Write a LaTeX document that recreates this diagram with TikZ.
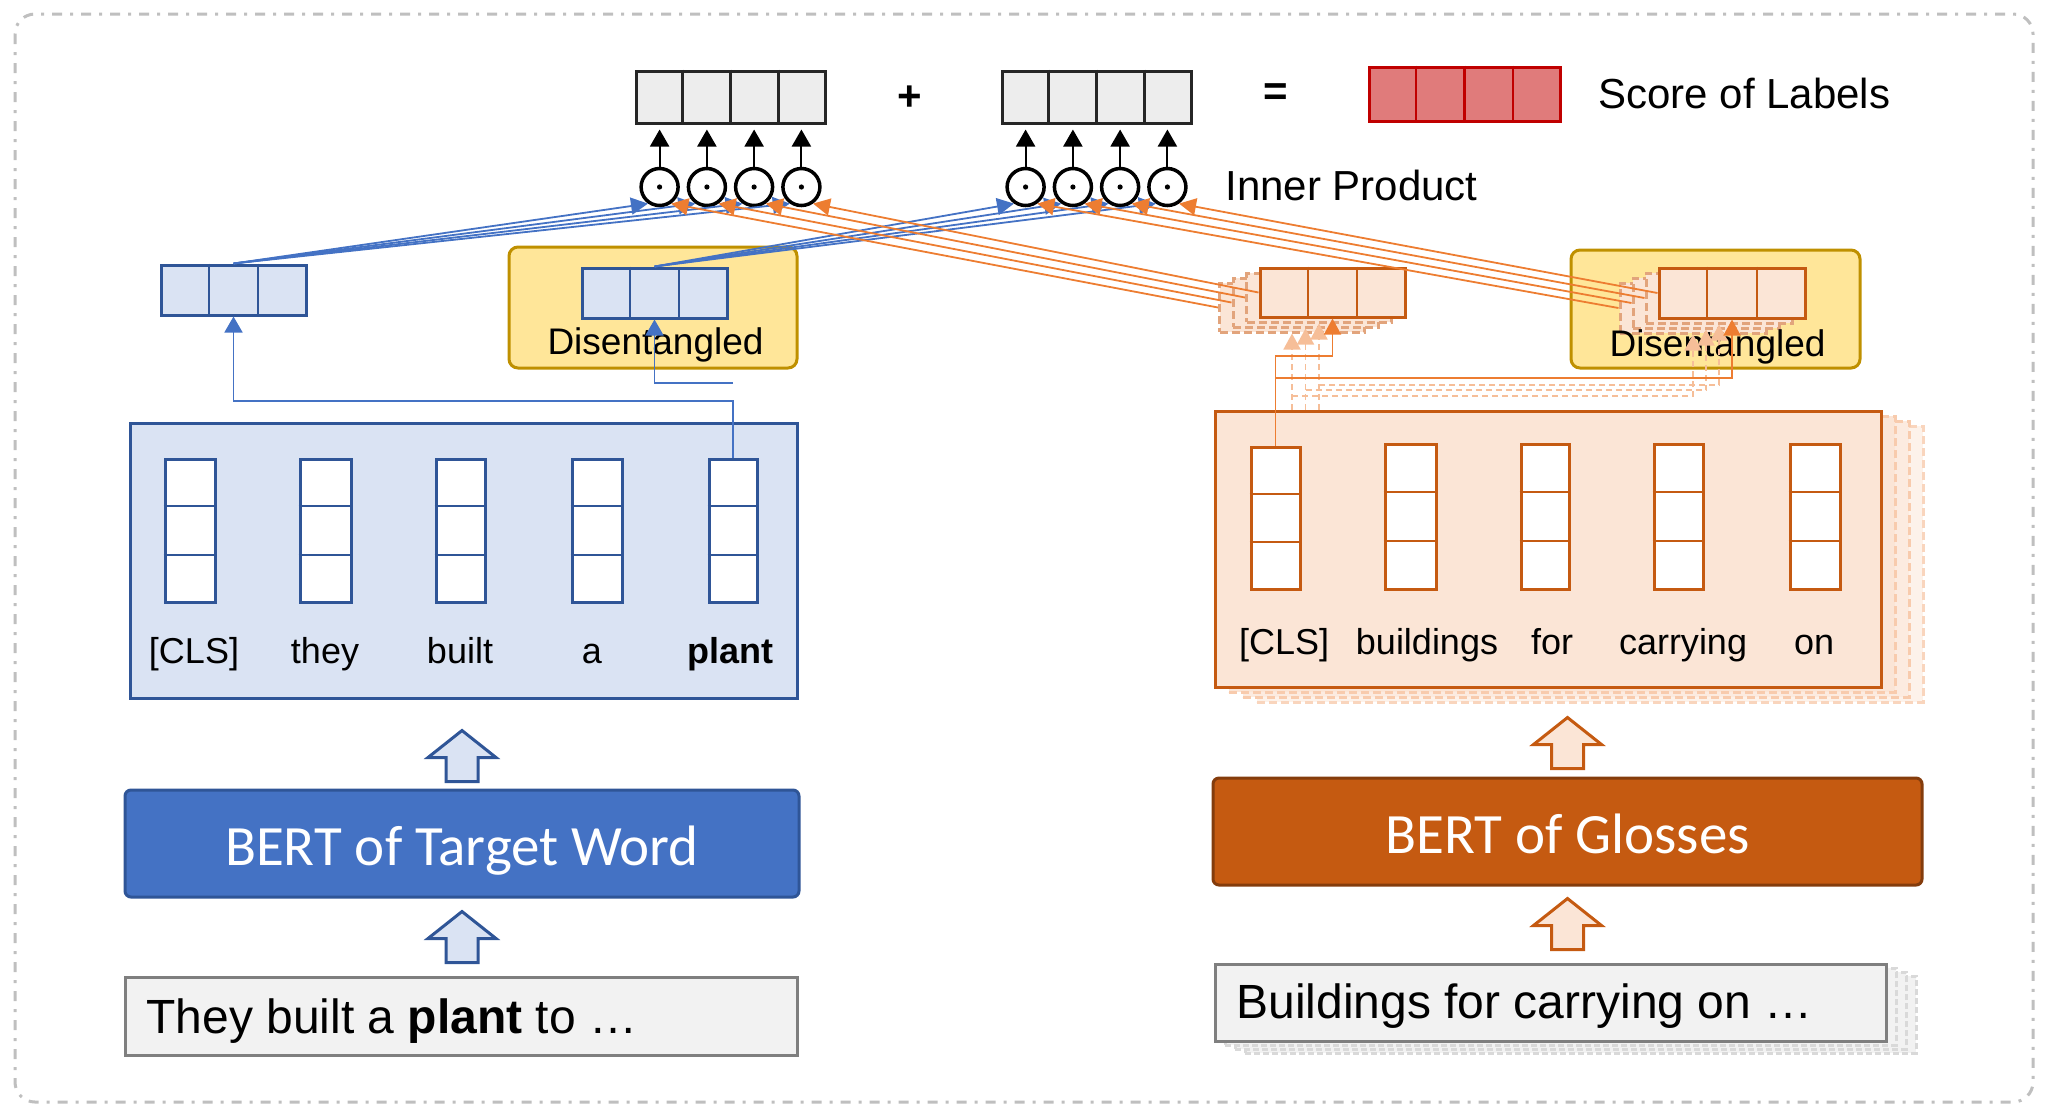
\documentclass[tikz,border=0pt]{standalone}
\usepackage{fontspec}
\setmainfont{Liberation Sans}
\newfontfamily\bertfont{Carlito}
\usetikzlibrary{arrows.meta,calc,fit}
\definecolor{blueFill}{HTML}{DAE3F3}
\definecolor{blueDraw}{HTML}{2F5597}
\definecolor{blueLine}{HTML}{4472C4}
\definecolor{bertBlue}{HTML}{4472C4}
\definecolor{orangeFill}{HTML}{FBE5D6}
\definecolor{orangeDraw}{HTML}{C55A11}
\definecolor{orangeLine}{HTML}{ED7D31}
\definecolor{bertOrange}{HTML}{C55A11}
\definecolor{bertOrangeDraw}{HTML}{843C0C}
\definecolor{stackDraw}{HTML}{E2A47C}
\definecolor{paleOrange}{HTML}{F8CBAD}
\definecolor{dashOrange}{HTML}{F6BE98}
\definecolor{yellowFill}{HTML}{FFE699}
\definecolor{yellowDraw}{HTML}{BF9000}
\definecolor{darkGray}{HTML}{262626}
\definecolor{cellGray}{HTML}{EDEDED}
\definecolor{scoreFill}{HTML}{E07B7B}
\definecolor{scoreDraw}{HTML}{C00000}
\definecolor{inputFill}{HTML}{F2F2F2}
\definecolor{inputDraw}{HTML}{7F7F7F}
\definecolor{inputShadow}{HTML}{D9D9D9}
\definecolor{frameGray}{HTML}{BFBFBF}

% name, node style, divider style, x1, y1, x2, y2, fractions
\newcommand\hvec[8]{%
  \coordinate (#1-a) at (#4,#5); \coordinate (#1-b) at (#6,#7);
  \node[fit=(#1-a)(#1-b), inner sep=0pt, #2] (#1) {};
  \foreach \f in {#8}{\draw[#3] ($(#1.north west)!\f!(#1.north east)$) -- ($(#1.south west)!\f!(#1.south east)$);}%
}
% name, node style, divider style, x1, y1, x2, y2 (three cells stacked)
\newcommand\vvec[7]{%
  \coordinate (#1-a) at (#4,#5); \coordinate (#1-b) at (#6,#7);
  \node[fit=(#1-a)(#1-b), inner sep=0pt, #2] (#1) {};
  \foreach \f in {0.3333,0.6667}{\draw[#3] ($(#1.north west)!\f!(#1.south west)$) -- ($(#1.north east)!\f!(#1.south east)$);}%
}
% name, style, x1, y1, x2, y2
\newcommand\boxnode[6]{%
  \coordinate (#1-a) at (#3,#4); \coordinate (#1-b) at (#5,#6);
  \node[fit=(#1-a)(#1-b), inner sep=0pt, #2] (#1) {};%
}
% style, tip coordinate
\newcommand\blockarrow[2]{%
  \draw[#1] (#2) -- ++(34,27) -- ++(-18,0) -- ++(0,24) -- ++(-32,0) -- ++(0,-24) -- ++(-18,0) -- cycle;%
}

\begin{document}
\begin{tikzpicture}[x=0.5pt,y=-0.5pt,
  frame/.style={draw=frameGray, line width=1.5pt, dash pattern=on 5pt off 4pt on 1.5pt off 4pt, rounded corners=10pt},
  gvec/.style={draw=darkGray, fill=cellGray, line width=1.5pt},
  gdiv/.style={draw=darkGray, line width=1.2pt},
  svec/.style={draw=scoreDraw, fill=scoreFill, line width=1.5pt},
  sdiv/.style={draw=scoreDraw, line width=1.2pt},
  bvec/.style={draw=blueDraw, fill=blueFill, line width=1.5pt},
  bdiv/.style={draw=blueDraw, line width=1.3pt},
  btok/.style={draw=blueDraw, fill=white, line width=1.5pt},
  ovec/.style={draw=orangeDraw, fill=orangeFill, line width=1.5pt},
  odiv/.style={draw=orangeDraw, line width=1.3pt},
  otok/.style={draw=orangeDraw, fill=white, line width=1.5pt},
  ostack/.style={draw=stackDraw, fill=orangeFill, line width=1.5pt, dash pattern=on 4pt off 2pt},
  gshadowA/.style={draw=paleOrange, fill=orangeFill, line width=1.5pt, dash pattern=on 4pt off 2pt},
  gshadowB/.style={draw=paleOrange, fill=orangeFill!75, line width=1.5pt, dash pattern=on 4pt off 2pt},
  gshadowC/.style={draw=paleOrange!80, fill=orangeFill!50, line width=1.5pt, dash pattern=on 4pt off 2pt},
  ishadow/.style={draw=inputShadow, fill=inputFill, line width=1.5pt, dash pattern=on 3pt off 1.5pt},
  ybox/.style={draw=yellowDraw, fill=yellowFill, line width=1.5pt, rounded corners=4.5pt},
  odot/.style={circle, draw=black, fill=white, line width=1.75pt, minimum size=18.5pt, inner sep=0pt},
  bertTstyle/.style={draw=blueDraw, fill=bertBlue, line width=1.5pt, rounded corners=3pt},
  bertGstyle/.style={draw=bertOrangeDraw, fill=bertOrange, line width=1.5pt, rounded corners=3pt},
  inbox/.style={draw=inputDraw, fill=inputFill, line width=1.5pt},
  barrowB/.style={draw=blueDraw, fill=blueFill, line width=1.5pt, line join=miter},
  barrowO/.style={draw=orangeDraw, fill=orangeFill, line width=1.5pt, line join=miter},
  bigtxt/.style={font=\fontsize{21pt}{25pt}\selectfont, inner sep=0pt},
  dtxt/.style={font=\fontsize{18.5pt}{22pt}\selectfont, inner sep=0pt, anchor=base},
  toktxt/.style={font=\fontsize{18pt}{22pt}\selectfont, inner sep=0pt, anchor=base},
  berttxt/.style={font=\bertfont\fontsize{28.5pt}{34pt}\selectfont, text=white, inner sep=0pt, anchor=base},
  intxt/.style={font=\fontsize{24pt}{28pt}\selectfont, inner sep=0pt, anchor=base west},
  bline/.style={draw=blueLine, line width=0.9pt, -{Triangle[width=8.5pt,length=8.5pt]}},
  oline/.style={draw=orangeLine, line width=0.9pt, -{Triangle[width=8.5pt,length=8.5pt]}},
  bconn/.style={draw=blueLine, line width=0.9pt, -{Triangle[width=9pt,length=8pt]}},
  oconn/.style={draw=orangeLine, line width=0.9pt, -{Triangle[width=8.5pt,length=8pt]}},
  dconn/.style={draw=dashOrange, line width=0.9pt, dash pattern=on 3pt off 2pt, -{Triangle[width=8.5pt,length=8pt]}},
  kline/.style={draw=black, line width=1pt, shorten >=2.5pt, -{Triangle[width=9.5pt,length=8.5pt]}}
]
\useasboundingbox (0,0) rectangle (2048,1116);
\draw[frame] (15,14) rectangle (2033,1102);

% ---- top row ----
\hvec{g1}{gvec}{gdiv}{636}{71}{825}{123}{0.25,0.5,0.75}
\hvec{g2}{gvec}{gdiv}{1002}{71}{1191}{123}{0.25,0.5,0.75}
\hvec{sc}{svec}{sdiv}{1369}{67}{1560}{121}{0.25,0.5,0.75}
\node[bigtxt, font=\bfseries\fontsize{21pt}{25pt}\selectfont] (plus) at (910,98) {+};
\node[bigtxt, font=\bfseries\fontsize{21pt}{25pt}\selectfont] (eq) at (1276,95) {=};
\node[bigtxt, anchor=base west] (scoreTxt) at (1598,108) {Score of Labels};
\node[bigtxt, anchor=base west] (innerTxt) at (1225,200) {Inner Product};

% ---- yellow boxes ----
\boxnode{yL}{ybox}{509}{247}{797}{368}
\boxnode{yR}{ybox}{1571}{250}{1860}{368}

% ---- blue vectors ----
\hvec{clsT}{bvec}{bdiv}{161}{265}{306}{315}{0.3333,0.6667}
\hvec{disT}{bvec}{bdiv}{582}{268}{727}{318}{0.3333,0.6667}
\node[dtxt] (disTxtL) at (655.5,354) {Disentangled};

% ---- orange vector stacks ----
\boxnode{ocs3}{ostack}{1219.5}{283}{1364.5}{332}
\boxnode{ocs2}{ostack}{1233}{278}{1378}{327}
\boxnode{ocs1}{ostack}{1246.5}{273}{1391.5}{322}
\hvec{oc}{ovec}{odiv}{1260}{268}{1405}{317}{0.3333,0.6667}
\boxnode{ods3}{ostack}{1620}{283}{1766}{333}
\boxnode{ods2}{ostack}{1633}{278}{1779}{328}
\boxnode{ods1}{ostack}{1646}{273}{1792}{323}
\hvec{od}{ovec}{odiv}{1659}{268}{1805}{318}{0.3333,0.6667}
\node[dtxt] (disTxtR) at (1717.5,356) {Disentangled};

% ---- gloss token box ----
\boxnode{glS3}{gshadowC}{1257}{426}{1923}{702}
\boxnode{glS2}{gshadowB}{1243}{421}{1909}{697}
\boxnode{glS1}{gshadowA}{1229}{416}{1895}{692}
\boxnode{gl}{ovec}{1215}{411}{1881}{687}
\vvec{gt1}{otok}{odiv}{1251}{447}{1300}{589}
\vvec{gt2}{otok}{odiv}{1385}{444}{1436}{589}
\vvec{gt3}{otok}{odiv}{1521}{444}{1569}{589}
\vvec{gt4}{otok}{odiv}{1654}{444}{1703}{589}
\vvec{gt5}{otok}{odiv}{1790}{444}{1840}{589}
\node[toktxt] (gl1) at (1284,654) {[CLS]};
\node[toktxt] (gl2) at (1427,654) {buildings};
\node[toktxt] (gl3) at (1552,654) {for};
\node[toktxt] (gl4) at (1683,654) {carrying};
\node[toktxt] (gl5) at (1814,654) {on};

% ---- target token box ----
\boxnode{tb}{bvec}{130}{423}{797}{698}
\vvec{t1}{btok}{bdiv}{165}{459}{215}{602}
\vvec{t2}{btok}{bdiv}{300}{459}{351}{602}
\vvec{t3}{btok}{bdiv}{436}{459}{485}{602}
\vvec{t4}{btok}{bdiv}{572}{459}{622}{602}
\vvec{t5}{btok}{bdiv}{709}{459}{757}{602}
\node[toktxt] (tl1) at (194,663) {[CLS]};
\node[toktxt] (tl2) at (325,663) {they};
\node[toktxt] (tl3) at (460,663) {built};
\node[toktxt] (tl4) at (592,663) {a};
\node[toktxt] (tl5) at (730,663) {\textbf{plant}};

% ---- BERT boxes ----
\boxnode{bertT}{bertTstyle}{125}{790}{799}{897}
\node[berttxt] (bertTtxt) at (bertT.center |- 0,865) {BERT of Target Word};
\boxnode{bertG}{bertGstyle}{1213}{778}{1922}{885}
\node[berttxt] (bertGtxt) at (bertG.center |- 0,853) {BERT of Glosses};

% ---- inputs ----
\boxnode{inT}{inbox}{125}{977}{797}{1055}
\node[intxt] (inTtxt) at (146,1033) {They built a \textbf{plant} to …};
\boxnode{inGS3}{ishadow}{1245}{976}{1916}{1053}
\boxnode{inGS2}{ishadow}{1235}{972}{1906}{1049}
\boxnode{inGS1}{ishadow}{1225}{968}{1896}{1045}
\boxnode{inG}{inbox}{1215}{964}{1886}{1041}
\node[intxt] (inGtxt) at (1236,1018) {Buildings for carrying on …};

% ---- block arrows ----
\coordinate (baT1) at ($(bertT.north |- tb.south)+(0,31)$);
\coordinate (baT2) at ($(bertT.south)+(0,13)$);
\coordinate (baG1) at ($(bertG.north |- gl.south)+(0,29)$);
\coordinate (baG2) at ($(bertG.south)+(0,12)$);
\blockarrow{barrowB}{baT1}
\blockarrow{barrowB}{baT2}
\blockarrow{barrowO}{baG1}
\blockarrow{barrowO}{baG2}

% ---- token connectors ----
\draw[bconn] (t5.north) -- (t5.north |- 0,401) -| (clsT.south);
\draw[bconn] (t5.north |- 0,383) -| (disT.south);
\draw[dconn] (ocs3.south |- gl.north) -- (ocs3.south);
\draw[dconn] (ocs3.south |- 0,396) -| (ods3.south);
\draw[dconn] (ocs2.south |- gl.north) -- (ocs2.south);
\draw[dconn] (ocs2.south |- 0,390) -| (ods2.south);
\draw[dconn] (ocs1.south |- gl.north) -- (ocs1.south);
\draw[dconn] (ocs1.south |- 0,385) -| (ods1.south);
\draw[oconn] (gt1.north) -- (gt1.north |- 0,356) -| (oc.south);
\draw[oconn] (gt1.north |- 0,378) -| (od.south);

% ---- inner product circles ----
\foreach \i/\x in {1/659.6,2/706.9,3/754.1,4/801.4}{%
  \node[odot] (L\i) at (\x,187) {};
  \fill (L\i.center) circle[radius=1.3pt];
}
\foreach \i/\x in {1/1025.6,2/1072.9,3/1120.1,4/1167.4}{%
  \node[odot] (R\i) at (\x,187) {};
  \fill (R\i.center) circle[radius=1.3pt];
}
\foreach \i in {1,2,3,4}{%
  \draw[kline] (L\i.north) -- (L\i.north |- g1.south);
  \draw[kline] (R\i.north) -- (R\i.north |- g2.south);
  \draw[bline] (clsT.north) -- (L\i.-125);
  \draw[bline] (disT.north) -- (R\i.-125);
}
\draw[oline] (oc.west) -- (L4.-55);
\draw[oline] (ocs1.west) -- (L3.-55);
\draw[oline] (ocs2.west) -- (L2.-55);
\draw[oline] (ocs3.west) -- (L1.-55);
\draw[oline] (od.west) -- (R4.-55);
\draw[oline] (ods1.west) -- (R3.-55);
\draw[oline] (ods2.west) -- (R2.-55);
\draw[oline] (ods3.west) -- (R1.-55);
\end{tikzpicture}
\end{document}
